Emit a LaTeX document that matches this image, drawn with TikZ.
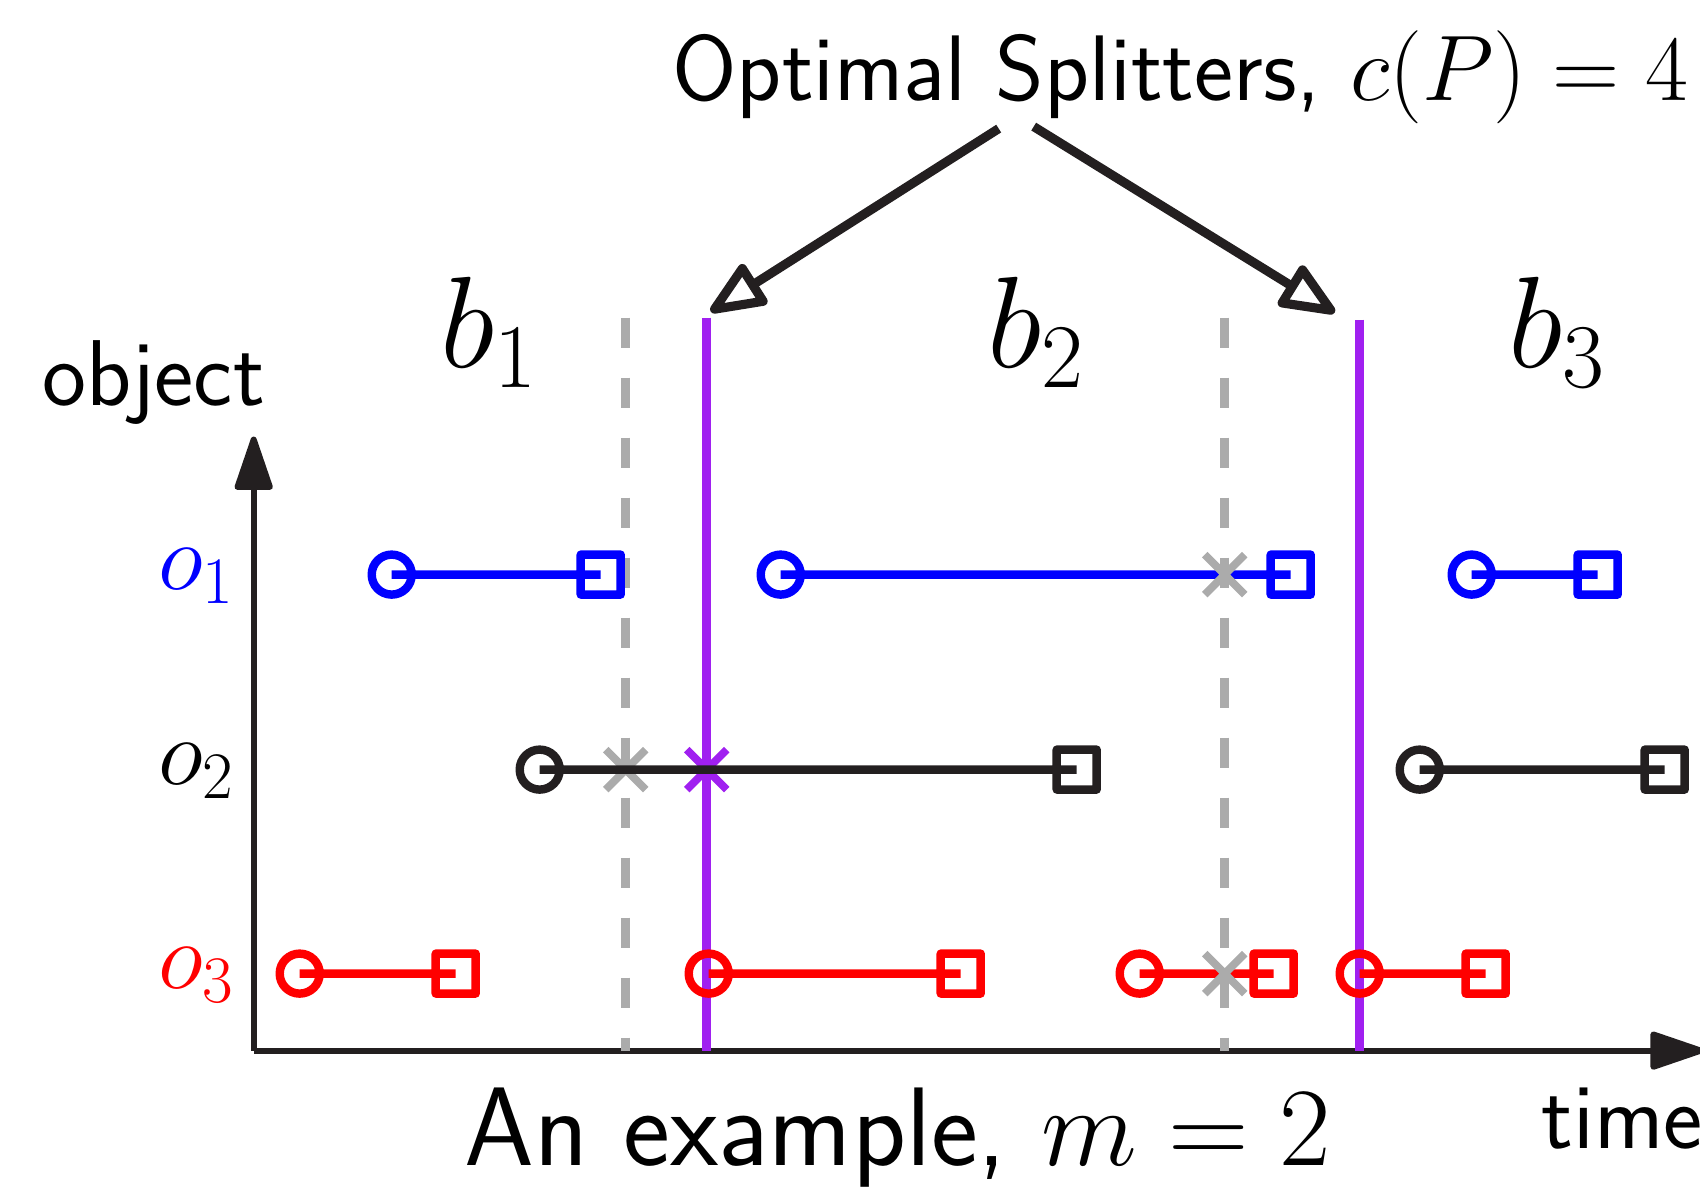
\RequirePackage{fix-cm}
\documentclass[tikz,border=0pt]{standalone}
\usepackage{xcolor}
\usepackage{tikz}
\usetikzlibrary{arrows.meta}
\definecolor{inkblack}{HTML}{231F20}
\definecolor{splitpurple}{HTML}{A020F0}
\definecolor{cutgray}{HTML}{ABABAB}

\begin{document}
\begin{tikzpicture}[font=\sffamily,
  seg/.style={line width=2.4pt,line join=round},
  cut/.style={cutgray,line width=2.6pt,dash pattern=on 0.3cm off 0.3cm},
  split/.style={splitpurple,line width=2.6pt},
  cross/.style={line width=2.2pt},
  axis/.style={inkblack,line width=1.7pt,-{Triangle[length=0.6cm,width=0.39cm,round]}},
  pointer/.style={inkblack,line width=2.6pt,-{Triangle[open,length=0.62cm,width=0.5cm,round]}},
  lbl/.style={inner sep=0pt}]
  \useasboundingbox (-2.537,-1.404) rectangle (14.463,10.506);
  % labels
  \node[lbl,anchor=base west,font=\sffamily\fontsize{26.5}{32}\selectfont] (title) at (4.18,9.506) {Optimal Splitters, $c(P)=4$};
  \node[lbl,anchor=base west,font=\sffamily\fontsize{31.8}{38}\selectfont] (caption) at (2.10,-1.145) {An example, $m=2$};
  \node[lbl,anchor=base west,font=\sffamily\fontsize{26.6}{32}\selectfont] (ylabel) at (-2.12,6.45) {object};
  \node[lbl,anchor=base west,font=\sffamily\fontsize{26.6}{32}\selectfont] (xlabel) at (12.87,-0.98) {time};
  \node[lbl,anchor=base west,font=\fontsize{37}{44}\selectfont] (b1) at (1.86,6.83) {$b_1$};
  \node[lbl,anchor=base west,font=\fontsize{37}{44}\selectfont] (b2) at (7.33,6.83) {$b_2$};
  \node[lbl,anchor=base west,font=\fontsize{37}{44}\selectfont] (b3) at (12.54,6.83) {$b_3$};
  \node[lbl,anchor=base east,font=\fontsize{27}{32}\selectfont,blue] (o1) at (-0.18,4.61) {$o_1$};
  \node[lbl,anchor=base east,font=\fontsize{27}{32}\selectfont,black] (o2) at (-0.18,2.66) {$o_2$};
  \node[lbl,anchor=base east,font=\fontsize{27}{32}\selectfont,red] (o3) at (-0.18,0.62) {$o_3$};
  % axes
  \coordinate (O) at (0,0);
  \coordinate (ytip) at (0,6.14);
  \coordinate (xtip) at (14.5,0);
  \draw[axis] (O) -- (ytip);
  \draw[axis] (O) -- (xtip);
  % splitters
  \draw[cut] (3.72,7.33) -- (3.72,0);
  \draw[cut] (9.71,7.33) -- (9.71,0);
  \draw[split] (4.53,7.33) -- (4.53,0);
  \draw[split] (11.06,7.31) -- (11.06,0);
  \draw[cutgray,cross] (3.72,2.81) +(-0.2,-0.2) -- +(0.2,0.2) +(-0.2,0.2) -- +(0.2,-0.2);
  \draw[splitpurple,cross] (4.53,2.81) +(-0.2,-0.2) -- +(0.2,0.2) +(-0.2,0.2) -- +(0.2,-0.2);
  % intervals
  \draw[blue,seg] (1.38,4.76) circle (0.2) -- (3.47,4.76) ++(-0.2,-0.2) rectangle ++(0.4,0.4);
  \draw[blue,seg] (5.27,4.76) circle (0.2) -- (10.37,4.76) ++(-0.2,-0.2) rectangle ++(0.4,0.4);
  \draw[blue,seg] (12.18,4.76) circle (0.2) -- (13.44,4.76) ++(-0.2,-0.2) rectangle ++(0.4,0.4);
  \draw[inkblack,seg] (2.86,2.81) circle (0.2) -- (8.23,2.81) ++(-0.2,-0.2) rectangle ++(0.4,0.4);
  \draw[inkblack,seg] (11.66,2.81) circle (0.2) -- (14.11,2.81) ++(-0.2,-0.2) rectangle ++(0.4,0.4);
  \draw[red,seg] (0.46,0.77) circle (0.2) -- (2.02,0.77) ++(-0.2,-0.2) rectangle ++(0.4,0.4);
  \draw[red,seg] (4.55,0.77) circle (0.2) -- (7.07,0.77) ++(-0.2,-0.2) rectangle ++(0.4,0.4);
  \draw[red,seg] (8.86,0.77) circle (0.2) -- (10.20,0.77) ++(-0.2,-0.2) rectangle ++(0.4,0.4);
  \draw[red,seg] (11.06,0.77) circle (0.2) -- (12.32,0.77) ++(-0.2,-0.2) rectangle ++(0.4,0.4);
  \draw[cutgray,cross] (9.71,4.76) +(-0.2,-0.2) -- +(0.2,0.2) +(-0.2,0.2) -- +(0.2,-0.2);
  \draw[cutgray,cross] (9.71,0.77) +(-0.2,-0.2) -- +(0.2,0.2) +(-0.2,0.2) -- +(0.2,-0.2);
  % pointers
  \coordinate (p1) at (7.45,9.22);
  \coordinate (p2) at (7.80,9.24);
  \coordinate (s1) at (4.57,7.39);
  \coordinate (s2) at (10.81,7.38);
  \draw[pointer] (p1) -- (s1);
  \draw[pointer] (p2) -- (s2);
\end{tikzpicture}
\end{document}
